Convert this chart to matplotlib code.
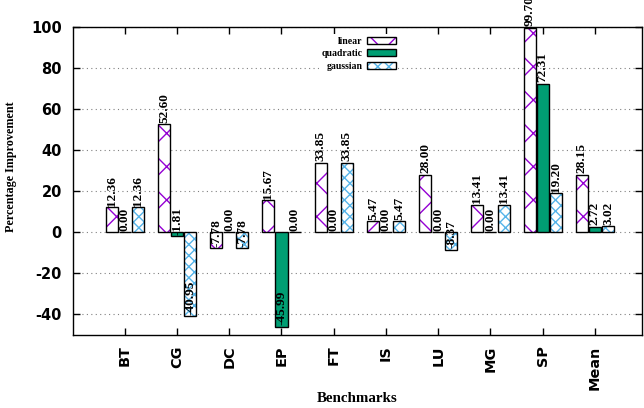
'''
Percentage improvement per benchmark for the linear, quadratic and gaussian models
'''
import matplotlib.pyplot as plt
import numpy as np
from matplotlib.patches import Patch

benchmarks = ['BT', 'CG', 'DC', 'EP', 'FT', 'IS', 'LU', 'MG', 'SP', 'Mean']
linear = [12.36, 52.60, -7.78, 15.67, 33.85, 5.47, 28.00, 13.41, 99.70, 28.15]
quadratic = [0.00, -1.81, 0.00, -45.99, 0.00, 0.00, 0.00, 0.00, 72.31, 2.72]
gaussian = [12.36, -40.95, -7.78, 0.00, 33.85, 5.47, -8.37, 13.41, 19.20, 3.02]

serif = 'Liberation Serif'
purple = '#9400D3'
green = '#009E73'
blue = '#56B4E9'

plt.rcParams['axes.unicode_minus'] = False

fig = plt.figure(figsize=(6.44, 4.08), dpi=100)
ax = fig.add_axes([0.1134, 0.1789, 0.8835, 0.7549])

x = np.arange(len(benchmarks))
step = 0.25
width = 0.23

# hatched bars: hatch in colour first, black outline on top
def hatched_bar(pos, vals, color, hatch):
    ax.bar(pos, vals, width, color='white', edgecolor=color, hatch=hatch, linewidth=0, zorder=2)
    ax.bar(pos, vals, width, fill=False, edgecolor='black', linewidth=1, zorder=3)

hatched_bar(x - step, linear, purple, 'x')
ax.bar(x, quadratic, width, color=green, edgecolor='black', linewidth=1, zorder=3)
hatched_bar(x + step, gaussian, blue, 'xxx')

# value labels
for off, vals in [(-step, linear), (0, quadratic), (step, gaussian)]:
    for xi, v in zip(x, vals):
        ax.annotate('%.2f' % v, (xi + off, v), xytext=(0, 1), textcoords='offset points',
                    rotation=90, ha='center', va='bottom', fontsize=9.5,
                    fontfamily=serif, fontweight='bold', zorder=5)

ax.set_xlim(-0.99, 9.9)
ax.set_ylim(-50, 100)
ax.set_yticks(np.arange(-40, 101, 20))
ax.set_xticks(x)
ax.set_xticklabels(benchmarks, rotation=90, fontweight='bold', fontsize=10.4)
for t in ax.get_yticklabels():
    t.set_fontweight('bold')
    t.set_fontsize(10.5)
ax.tick_params(direction='in', length=5, top=True, right=True, width=1)
ax.tick_params(axis='y', pad=8)
ax.tick_params(axis='x', pad=7.5)
ax.yaxis.grid(True, linestyle=(0, (1, 3)), color='gray', linewidth=0.8, zorder=0)
ax.set_axisbelow(True)
for s in ax.spines.values():
    s.set_linewidth(1)

ax.set_ylabel('Percentage Improvement', fontfamily=serif, fontweight='bold', fontsize=8.7)
ax.yaxis.set_label_coords(-0.098, 0.545)
ax.set_xlabel('Benchmarks', fontfamily=serif, fontweight='bold', fontsize=10.8, labelpad=2)

handles = [
    (Patch(facecolor='white', edgecolor=purple, hatch='x', linewidth=0),
     Patch(fill=False, edgecolor='black', linewidth=1)),
    Patch(facecolor=green, edgecolor='black', linewidth=1),
    (Patch(facecolor='white', edgecolor=blue, hatch='xxx', linewidth=0),
     Patch(fill=False, edgecolor='black', linewidth=1)),
]
leg = ax.legend(handles, ['linear', 'quadratic', 'gaussian'], loc='upper right',
                bbox_to_anchor=(0.572, 0.978), markerfirst=False, frameon=True,
                prop={'family': serif, 'weight': 'bold', 'size': 7},
                handlelength=2.9, handleheight=0.7, labelspacing=0.35,
                handletextpad=0.5, borderpad=0.3, borderaxespad=0)
leg.get_frame().set_edgecolor('none')
leg.get_frame().set_alpha(1)
for t in leg.get_texts():
    t.set_ha('right')

plt.savefig('out.png', dpi=100)
